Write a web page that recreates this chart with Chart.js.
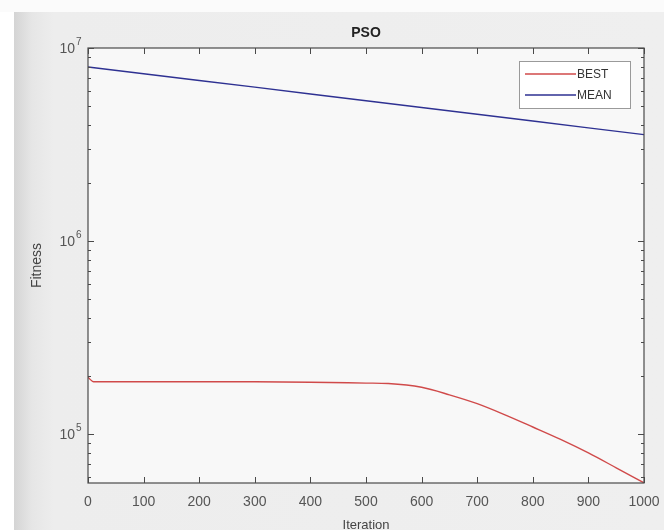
<!DOCTYPE html>
<html>
<head>
<meta charset="utf-8">
<script src="https://cdn.jsdelivr.net/npm/chart.js@4"></script>
<style>
  html, body { margin:0; padding:0; width:664px; height:530px; overflow:hidden; background:#ffffff; }
  #frame { position:absolute; left:14px; top:12px; width:650px; height:518px;
    background: linear-gradient(to right, #d4d4d4 0px, #e6e6e6 18px, #ededed 40px, #efefef 100%); }
  #topstrip { position:absolute; left:0; top:0; width:664px; height:12px; background:#fbfbfb; }
  #wrap { position:absolute; left:0; top:0; width:664px; height:530px; }
</style>
</head>
<body>
<div id="topstrip"></div>
<div id="frame"></div>
<div id="wrap"><canvas id="c" width="664" height="530"></canvas></div>
<script>
const iterations = [0, 10, 100, 200, 300, 400, 500, 540, 600, 650, 700, 750, 800, 850, 900, 950, 1000];
const bestFitness = [197000, 187000, 187000, 187000, 187000, 186000, 184000, 183000, 175000, 160000, 144000, 126000, 109000, 94000, 80000, 67000, 56000];
const meanIterations = [0, 100, 200, 300, 400, 500, 600, 700, 800, 900, 1000];
const meanFitness = [7980000, 7360000, 6790000, 6270000, 5780000, 5330000, 4920000, 4540000, 4190000, 3860000, 3560000];
const xTicks = [0, 100, 200, 300, 400, 500, 600, 700, 800, 900, 1000];
const xTickLabels = ['0', '100', '200', '300', '400', '500', '600', '700', '800', '900', '1000'];
const yTicks = [1e5, 1e6, 1e7];
const yTickBase = '10';
const yTickExponents = ['5', '6', '7'];
const seriesNames = ['BEST', 'MEAN'];

const FONT = '"Liberation Sans", Arial, sans-serif';
const AXIS = '#4a4a4a';

const matlabPlugin = {
  id: 'matlab',
  beforeDraw(chart) {
    const a = chart.chartArea, ctx = chart.ctx;
    ctx.save();
    ctx.fillStyle = '#f8f8f8';
    ctx.fillRect(a.left, a.top, a.right - a.left, a.bottom - a.top);
    ctx.restore();
  },
  afterDraw(chart) {
    const a = chart.chartArea, ctx = chart.ctx;
    const xs = chart.scales.x, ys = chart.scales.y;
    ctx.save();
    ctx.strokeStyle = AXIS; ctx.lineWidth = 1.2;
    ctx.strokeRect(a.left, a.top, a.right - a.left, a.bottom - a.top);
    ctx.lineWidth = 1;
    xTicks.forEach(v => {
      const px = Math.round(xs.getPixelForValue(v)) + 0.5;
      ctx.beginPath();
      ctx.moveTo(px, a.bottom); ctx.lineTo(px, a.bottom - 6);
      ctx.moveTo(px, a.top); ctx.lineTo(px, a.top + 6);
      ctx.stroke();
    });
    for (let e = 4; e <= 7; e++) {
      for (let m = 1; m <= 9; m++) {
        const v = m * Math.pow(10, e);
        if (v < ys.min || v > ys.max) continue;
        const py = Math.round(ys.getPixelForValue(v)) + 0.5;
        const len = m === 1 ? 6 : 3;
        ctx.beginPath();
        ctx.moveTo(a.left, py); ctx.lineTo(a.left + len, py);
        ctx.moveTo(a.right, py); ctx.lineTo(a.right - len, py);
        ctx.stroke();
      }
    }
    // y tick labels 10^n
    ctx.fillStyle = '#555';
    yTicks.forEach((v, i) => {
      const py = ys.getPixelForValue(v);
      ctx.font = '14px ' + FONT;
      ctx.textAlign = 'right'; ctx.textBaseline = 'middle';
      ctx.fillText(yTickBase, a.left - 13, py + 1);
      ctx.font = '10px ' + FONT;
      ctx.textAlign = 'left'; ctx.textBaseline = 'middle';
      ctx.fillText(yTickExponents[i], a.left - 12, py - 6);
    });
    ctx.fillStyle = '#222';
    ctx.font = 'bold 14px ' + FONT;
    ctx.textAlign = 'center'; ctx.textBaseline = 'middle';
    ctx.fillText('PSO', (a.left + a.right) / 2, 33);
    const lx = 519, ly = 61, lw = 111, lh = 47;
    ctx.fillStyle = '#ffffff';
    ctx.fillRect(lx, ly, lw, lh);
    ctx.strokeStyle = '#9a9a9a'; ctx.lineWidth = 1;
    ctx.strokeRect(lx + 0.5, ly + 0.5, lw, lh);
    const colors = chart.data.datasets.map(d => d.borderColor);
    seriesNames.forEach((n, i) => {
      const yy = ly + 13 + i * 21;
      ctx.strokeStyle = colors[i]; ctx.lineWidth = 1.5;
      ctx.beginPath(); ctx.moveTo(lx + 6, yy); ctx.lineTo(lx + 57, yy); ctx.stroke();
      ctx.fillStyle = '#333';
      ctx.font = '12px ' + FONT;
      ctx.textAlign = 'left'; ctx.textBaseline = 'middle';
      ctx.fillText(n, lx + 58, yy + 1);
    });
    ctx.restore();
  }
};

new Chart(document.getElementById('c'), {
  type: 'line',
  data: {
    datasets: [
      { label: seriesNames[0], data: iterations.map((x, i) => ({ x, y: bestFitness[i] })),
        borderColor: '#d04a4a', borderWidth: 1.4, pointRadius: 0, tension: 0.25, cubicInterpolationMode: 'monotone' },
      { label: seriesNames[1], data: meanIterations.map((x, i) => ({ x, y: meanFitness[i] })),
        borderColor: '#2e3192', borderWidth: 1.4, pointRadius: 0, tension: 0 }
    ]
  },
  options: {
    responsive: false,
    animation: false,
    events: [],
    layout: { padding: { left: 16, right: 20, top: 48, bottom: 0 } },
    plugins: { legend: { display: false }, title: { display: false }, tooltip: { enabled: false } },
    scales: {
      x: {
        type: 'linear', min: 0, max: 1000,
        afterBuildTicks: s => { s.ticks = xTicks.map(v => ({ value: v })); },
        afterFit: s => { s.height = 47; s.paddingLeft = 0; s.paddingRight = 0; },
        grid: { display: false, drawTicks: false },
        border: { display: false },
        ticks: { color: '#555', font: { family: FONT, size: 14 }, padding: 11, maxRotation: 0,
          callback: (v) => { const i = xTicks.indexOf(v); return i >= 0 ? xTickLabels[i] : ''; } },
        title: { display: true, text: 'Iteration', color: '#444', font: { family: FONT, size: 13 }, padding: { top: 0, bottom: -3 } }
      },
      y: {
        type: 'logarithmic', min: 55900, max: 1e7,
        afterBuildTicks: s => { s.ticks = yTicks.map(v => ({ value: v })); },
        afterFit: s => { s.width = 72; s.paddingTop = 0; s.paddingBottom = 0; },
        grid: { display: false, drawTicks: false },
        border: { display: false },
        ticks: { display: false },
        title: { display: true, text: 'Fitness', color: '#444', font: { family: FONT, size: 14 }, padding: { top: 13, bottom: 0 } }
      }
    }
  },
  plugins: [matlabPlugin]
});
</script>
</body>
</html>
